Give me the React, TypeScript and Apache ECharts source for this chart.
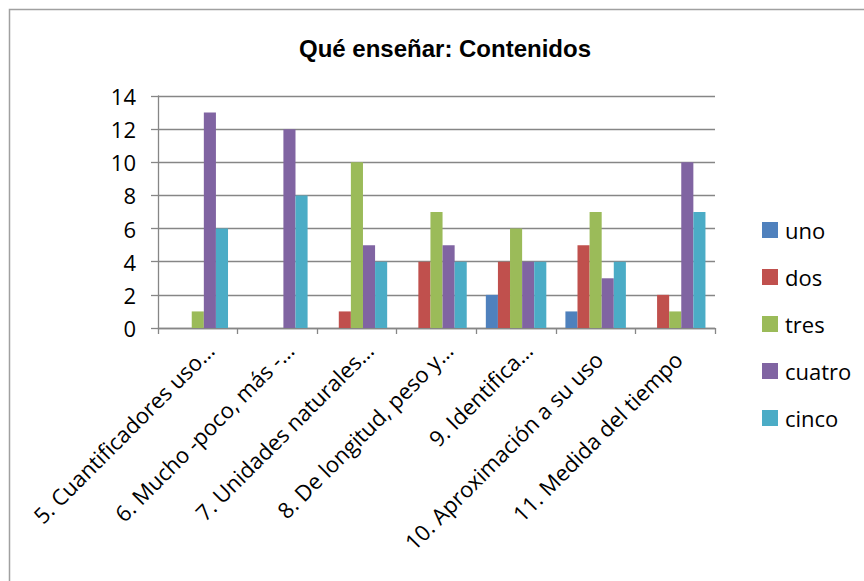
import React, { useEffect, useRef } from "react";
import * as echarts from "echarts";

const categories = [
  "5. Cuantificadores uso…",
  "6. Mucho -poco, más -…",
  "7. Unidades naturales…",
  "8. De longitud, peso y…",
  "9. Identifica…",
  "10. Aproximación a su uso",
  "11. Medida del tiempo",
];
const seriesNames = ["uno", "dos", "tres", "cuatro", "cinco"];
const uno = [0, 0, 0, 0, 2, 1, 0];
const dos = [0, 0, 1, 4, 4, 5, 2];
const tres = [1, 0, 10, 7, 6, 7, 1];
const cuatro = [13, 12, 5, 5, 4, 3, 10];
const cinco = [6, 8, 4, 4, 4, 4, 7];
const colors = ["#4F81BD", "#C0504D", "#9BBB59", "#8064A2", "#4BACC6"];

export default function App() {
  const ref = useRef<HTMLDivElement>(null);
  useEffect(() => {
    if (!ref.current) return;
    const chart = echarts.init(ref.current, null, { renderer: "svg" });
    const data = [uno, dos, tres, cuatro, cinco];
    const font = "Open Sans, Noto Sans, sans-serif";
    chart.setOption({
      animation: false,
      backgroundColor: "#ffffff",
      title: {
        text: "Qué enseñar: Contenidos",
        left: 440,
        top: 31,
        textAlign: "center",
        textStyle: {
          fontFamily: "Liberation Sans Narrow, Liberation Sans, Arial, sans-serif",
          fontWeight: "bold",
          fontSize: 24,
          color: "#000000",
        },
      },
      graphic: [
        {
          type: "rect",
          shape: { x: 9.5, y: 9.5, width: 1000, height: 1000 },
          style: { fill: "none", stroke: "#a0a0a0", lineWidth: 1.5 },
          silent: true,
        },
      ],
      legend: {
        orient: "vertical",
        left: 757,
        top: 213,
        itemWidth: 16,
        itemHeight: 16,
        itemGap: 23,
        icon: "rect",
        data: seriesNames,
        textStyle: { fontFamily: font, fontSize: 22, color: "#000000", padding: [0, 0, 0, 2], lineHeight: 24 },
      },
      grid: { left: 158, right: 149, top: 96, bottom: 253, containLabel: false },
      xAxis: {
        type: "category",
        data: categories,
        axisLine: { lineStyle: { color: "#868686", width: 1.3 } },
        axisTick: { show: true, length: 6, lineStyle: { color: "#868686", width: 1.3 } },
        axisLabel: {
          rotate: 45,
          interval: 0,
          margin: 30,
          fontFamily: font,
          fontSize: 22,
          color: "#000000",
          formatter: (v: string) => (v.endsWith("…") ? "{e|" + v + "}" : "{n|" + v + "}"),
          rich: {
            e: { fontFamily: font, fontSize: 22, color: "#000000", padding: [0, -17, 0, 0] },
            n: { fontFamily: font, fontSize: 22, color: "#000000", padding: [0, -4, 0, 0] },
          },
        },
      },
      yAxis: {
        type: "value",
        min: 0,
        max: 14,
        interval: 2,
        axisLine: { show: true, lineStyle: { color: "#868686", width: 1.3 } },
        axisTick: { show: true, length: 7, lineStyle: { color: "#868686", width: 1.3 } },
        splitLine: { lineStyle: { color: "#868686", width: 1.3 } },
        axisLabel: { fontFamily: font, fontSize: 22, color: "#000000", margin: 22 },
      },
      series: seriesNames.map((name, i) => ({
        name,
        type: "bar",
        data: data[i],
        barGap: "0%",
        barCategoryGap: "24%",
        itemStyle: { color: colors[i] },
      })),
    });
    return () => chart.dispose();
  }, []);
  return <div ref={ref} style={{ width: 864, height: 581, position: "absolute", left: 0, top: 0 }} />;
}
